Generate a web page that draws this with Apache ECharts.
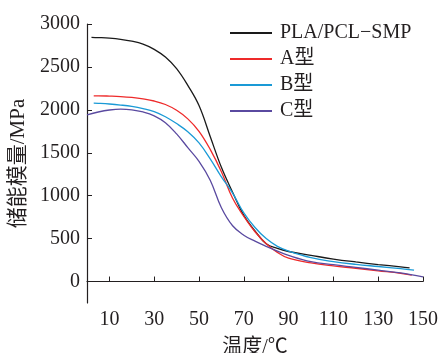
<!DOCTYPE html>
<html>
<head>
<meta charset="utf-8">
<script src="https://cdn.jsdelivr.net/npm/echarts@6/dist/echarts.min.js"></script>
<style>html,body{margin:0;padding:0;background:#fff}#c{width:440px;height:353px}</style>
</head>
<body>
<div id="c"></div>
<script>
const seriesNames = ['PLA/PCL\u2212SMP', 'A型', 'B型', 'C型'];
const xTicks = [10, 30, 50, 70, 90, 110, 130, 150];
const yTicks = [0, 500, 1000, 1500, 2000, 2500, 3000];
const smpData = [[2,2845],[5,2842],[10,2835],[15,2822],[20,2800],[25,2765],[30,2705],[35,2615],[40,2480],[45,2285],[50,2050],[55,1690],[60,1330],[65,1040],[70,770],[75,590],[80,440],[85,385],[90,350],[100,305],[110,262],[120,228],[130,198],[140,172],[144,160]];
const aData = [[3,2163],[5,2163],[10,2160],[15,2155],[20,2145],[25,2128],[30,2103],[35,2062],[40,1995],[45,1895],[50,1750],[55,1540],[60,1280],[65,970],[70,760],[75,580],[80,440],[85,340],[90,272],[100,217],[110,182],[120,155],[130,125],[140,95],[145,75]];
const bData = [[3,2078],[5,2076],[10,2068],[15,2056],[20,2040],[25,2015],[30,1980],[35,1920],[40,1840],[45,1745],[50,1615],[55,1430],[60,1220],[65,1030],[70,800],[75,630],[80,500],[85,410],[90,355],[100,278],[110,232],[120,200],[130,175],[140,150],[146,132]];
const cData = [[0,1942],[5,1975],[10,1998],[15,2008],[20,2000],[25,1975],[30,1930],[35,1850],[40,1720],[45,1560],[50,1400],[55,1180],[60,860],[65,650],[70,540],[75,470],[80,410],[85,355],[90,305],[100,232],[110,196],[120,165],[130,133],[140,100],[150,55]];
const colors = ['#1a1a1a', '#ee2a2a', '#1a9ad6', '#5a4aa0'];
const allData = [smpData, aData, bData, cData];

const font = '"Liberation Serif", "Times New Roman", "Noto Sans CJK SC", serif';
const txt = '#231f20';
const chart = echarts.init(document.getElementById('c'));
chart.setOption({
  animation: false,
  backgroundColor: '#fff',
  grid: {left: 87, right: 17, top: 24, bottom: 50, containLabel: false, outerBoundsMode: 'none'},
  legend: {
    orient: 'vertical', left: 230, top: 23, padding: 0, itemWidth: 42, itemHeight: 2, itemGap: 6,
    icon: 'rect',
    textStyle: {fontFamily: font, fontSize: 20, color: txt, lineHeight: 20, padding: [0,0,0,3]},
    data: seriesNames
  },
  xAxis: {
    type: 'value', min: 0, max: 150,
    name: '温度/℃', nameLocation: 'middle', nameGap: 35,
    nameTextStyle: {fontFamily: font, fontSize: 20, color: txt},
    axisLine: {lineStyle: {color: txt, width: 1.2}},
    axisTick: {inside: true, length: 5, customValues: xTicks, lineStyle: {color: txt}},
    axisLabel: {customValues: xTicks, fontFamily: font, fontSize: 20, color: txt, margin: 7, formatter: v => String(v)},
    splitLine: {show: false}
  },
  yAxis: {
    type: 'value', min: -250, max: 3000,
    name: '储能模量/MPa', nameLocation: 'middle', nameGap: 50, nameRotate: 90,
    nameTextStyle: {fontFamily: font, fontSize: 21, color: txt},
    axisLine: {show: true, lineStyle: {color: txt, width: 1.2}},
    axisTick: {show: true, inside: true, length: 5, customValues: yTicks, lineStyle: {color: txt}},
    axisLabel: {customValues: yTicks, fontFamily: font, fontSize: 20, color: txt, margin: 7, formatter: v => String(v)},
    splitLine: {show: false}
  },
  series: seriesNames.map((n, i) => ({
    name: n, type: 'line', data: allData[i], smooth: 0.4, showSymbol: false, symbol: 'none',
    lineStyle: {color: colors[i], width: 1.3}, itemStyle: {color: colors[i]}
  }))
});
</script>
</body>
</html>
